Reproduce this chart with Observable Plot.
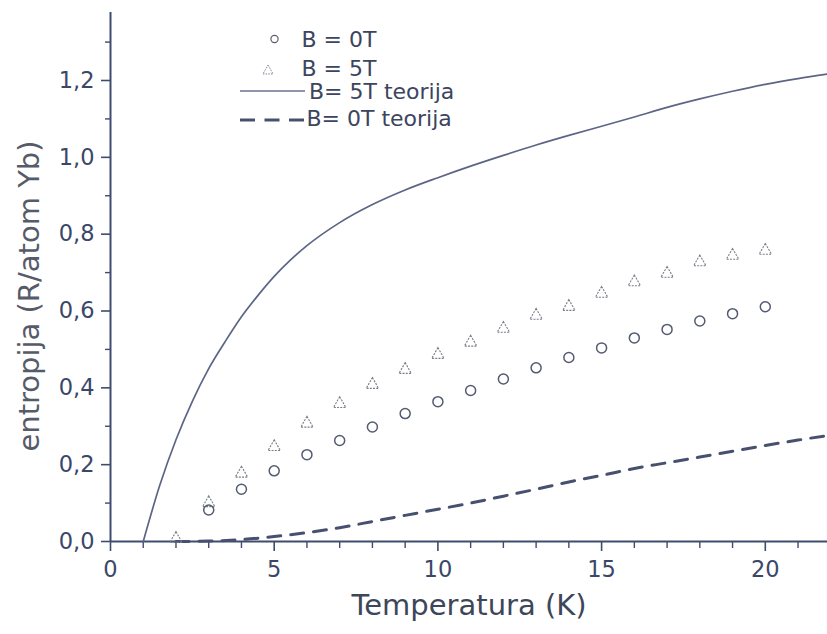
<!DOCTYPE html>
<html><head><meta charset="utf-8">
<script src="https://cdn.jsdelivr.net/npm/d3@7"></script>
<script src="https://cdn.jsdelivr.net/npm/@observablehq/plot@0.6"></script>
<style>
body{margin:0;background:#fff}
#chart{position:relative;width:827px;height:634px}
</style>
</head><body><div id="chart"></div>
<script>
// ---- data ----
const tempB0 = [3,4,5,6,7,8,9,10,11,12,13,14,15,16,17,18,19,20];
const entropyB0 = [0.082,0.136,0.184,0.226,0.263,0.298,0.333,0.364,0.393,0.423,0.452,0.479,0.504,0.53,0.552,0.574,0.593,0.611];
const tempB5 = [2,3,4,5,6,7,8,9,10,11,12,13,14,15,16,17,18,19,20];
const entropyB5 = [0.007,0.1,0.177,0.246,0.307,0.358,0.408,0.447,0.486,0.518,0.554,0.588,0.611,0.645,0.675,0.697,0.727,0.744,0.757];
const tempTheory5 = [1,1.5,2,2.5,3,3.5,4,4.5,5,5.5,6,7,8,9,10,11,12,13,14,15,16,17,18,19,20,21,22];
const entropyTheory5 = [0,0.145,0.265,0.365,0.45,0.52,0.585,0.64,0.69,0.733,0.77,0.83,0.877,0.915,0.947,0.977,1.005,1.032,1.057,1.081,1.105,1.13,1.152,1.172,1.19,1.205,1.218];
const tempTheory0 = [2,3,4,5,6,7,8,9,10,11,12,13,14,15,16,17,18,19,20,21,22];
const entropyTheory0 = [0,0.001,0.005,0.013,0.023,0.036,0.052,0.068,0.084,0.1,0.118,0.136,0.155,0.172,0.19,0.205,0.22,0.235,0.25,0.264,0.277];
const xMajorTicks = [0,5,10,15,20];
const xMinorTicks = [1,2,3,4,6,7,8,9,11,12,13,14,16,17,18,19,21];
const yMajorTicks = [0,0.2,0.4,0.6,0.8,1.0,1.2];
const yMinorTicks = [0.1,0.3,0.5,0.7,0.9,1.1,1.3];
const legendLabels = ["B = 0T","B = 5T","B= 5T teorija","B= 0T teorija"];
const xLabel = "Temperatura (K)";
const yLabel = "entropija (R/atom Yb)";

const toRows = (xs, ys) => xs.map((x, i) => ({x, y: ys[i]}));
const axisColor = "#3f4c6e";
const font = "DejaVu Sans";

const plot = Plot.plot({
  width: 827, height: 634,
  marginLeft: 110, marginRight: 0, marginTop: 12, marginBottom: 93,
  x: {domain: [0, 21.9]},
  y: {domain: [0, 1.377]},
  style: {fontFamily: font, fontSize: "22px", color: axisColor, background: "white", overflow: "visible"},
  marks: [
    Plot.axisY(yMajorTicks, {tickSize: 9, tickPadding: 7, strokeWidth: 1.6, tickFormat: d => d.toFixed(1).replace(".", ","), label: null, fontSize: 22.5, fill: "#3b4769"}),
    Plot.axisY(yMinorTicks, {tickSize: 5, strokeWidth: 1.4, tickFormat: () => "", label: null}),
    Plot.axisX(xMajorTicks, {tickSize: 10, tickPadding: 10, strokeWidth: 1.6, tickFormat: d => String(d), label: null, fontSize: 22.5, fill: "#3b4769"}),
    Plot.axisX(xMinorTicks, {tickSize: 7, strokeWidth: 1.4, tickFormat: () => "", label: null}),
    Plot.ruleY([0], {stroke: axisColor, strokeWidth: 2}),
    Plot.ruleX([0], {stroke: axisColor, strokeWidth: 2}),
    Plot.line(toRows(tempTheory5, entropyTheory5), {x: "x", y: "y", curve: "monotone-x", stroke: "#5d6587", strokeWidth: 1.7}),
    Plot.line(toRows(tempTheory0, entropyTheory0), {x: "x", y: "y", curve: "monotone-x", stroke: "#48506f", strokeWidth: 3, strokeDasharray: "13,10"}),
    Plot.dot(toRows(tempB5, entropyB5), {x: "x", y: "y", symbol: "triangle", r: 4.6, stroke: "#7a7d88", strokeWidth: 1.1, strokeDasharray: "2,1.2", fill: "none"}),
    Plot.dot(toRows(tempB0, entropyB0), {x: "x", y: "y", r: 5, stroke: "#545a72", strokeWidth: 1.5, fill: "none"}),
    Plot.text([xLabel], {frameAnchor: "bottom", dy: 73, fontSize: 29, fill: "#3e4659", fontFamily: font}),
    Plot.text([yLabel], {frameAnchor: "left", textAnchor: "middle", rotate: -90, dx: -81, dy: 19, fontSize: 29, fill: "#555b68", fontFamily: font})
  ]
});
document.getElementById("chart").appendChild(plot);

// ---- legend drawn inside the plot area ----
const svg = d3.select(plot);
const lg = svg.append("g");
lg.append("circle").attr("cx", 274.5).attr("cy", 39).attr("r", 3.6).attr("fill", "none").attr("stroke", "#5a5e70").attr("stroke-width", 1.2);
lg.append("path").attr("transform", "translate(268,71)").attr("d", d3.symbol(d3.symbolTriangle, 45)()).attr("fill", "none").attr("stroke", "#80838e").attr("stroke-width", 1).attr("stroke-dasharray", "1.5,1.2");
lg.append("line").attr("x1", 240).attr("x2", 305).attr("y1", 91).attr("y2", 91).attr("stroke", "#6b7090").attr("stroke-width", 1.6);
lg.append("line").attr("x1", 240).attr("x2", 304).attr("y1", 120).attr("y2", 120).attr("stroke", "#48506f").attr("stroke-width", 3).attr("stroke-dasharray", "15,9.5");
const lx = [301.5, 301.5, 309, 306.5];
const ly = [47, 76, 99, 126];
legendLabels.forEach((t, i) => lg.append("text")
  .attr("x", lx[i]).attr("y", ly[i])
  .attr("text-anchor", "start")
  .style("font-family", font).style("font-size", "22px").style("fill", "#3c4560")
  .text(t));
</script>
</body></html>
